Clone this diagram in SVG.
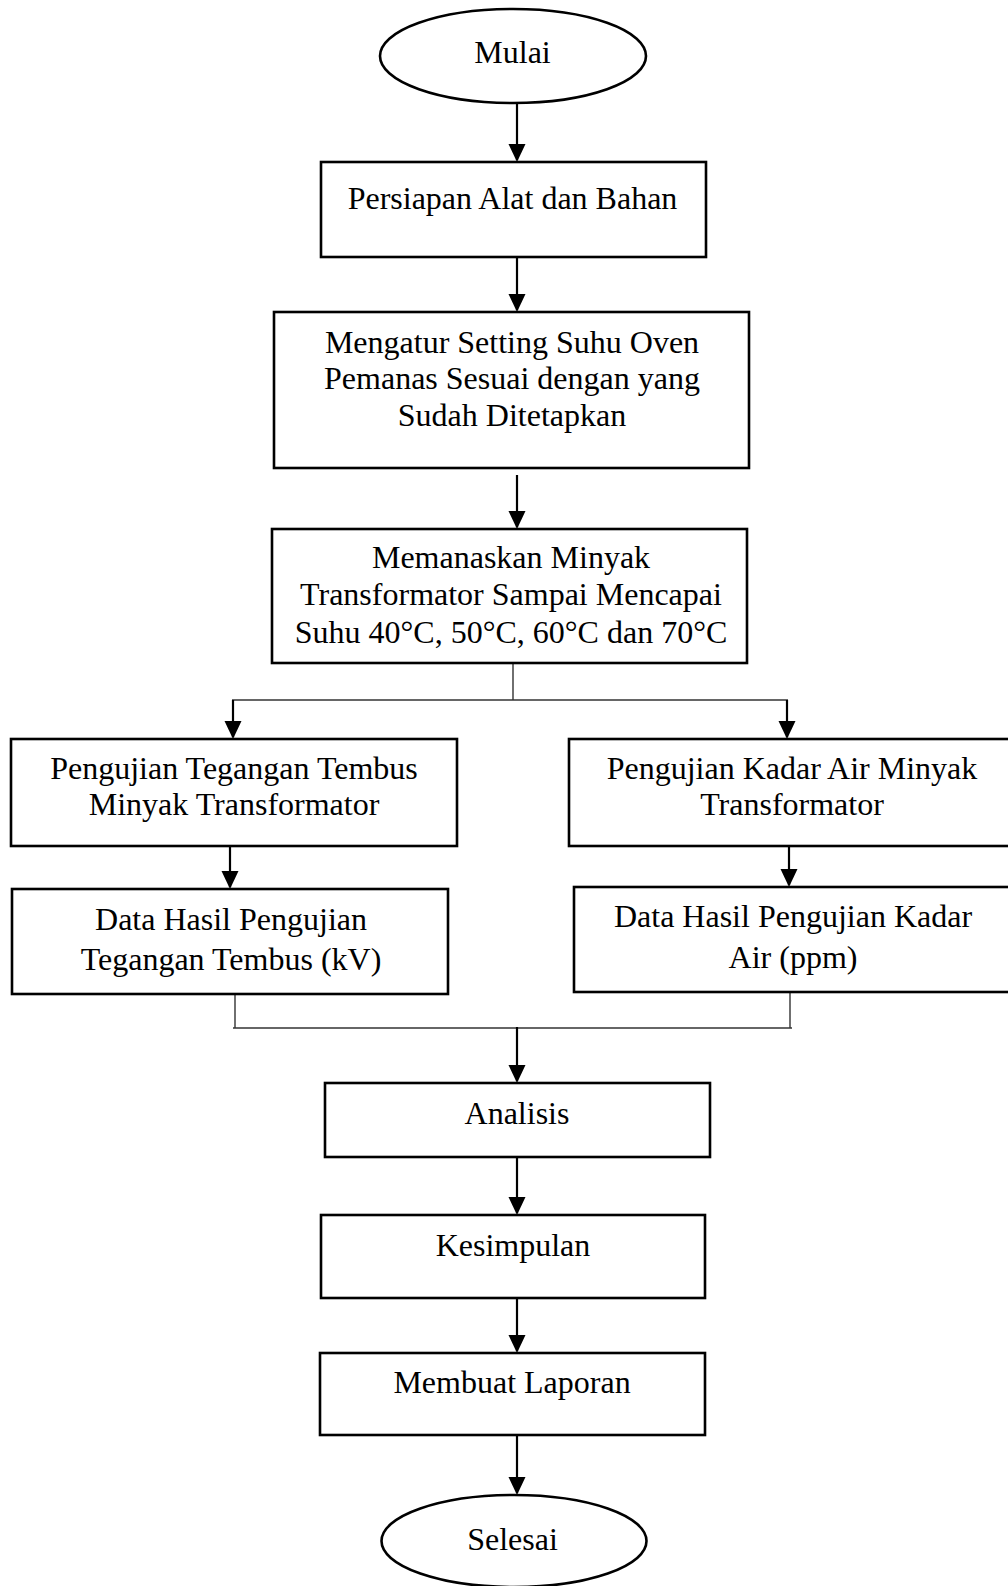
<svg xmlns="http://www.w3.org/2000/svg" width="1008" height="1586" viewBox="0 0 1008 1586">
<style>
  .box { fill: #fff; stroke: #000; stroke-width: 2.6; }
  .t { font-family: "Liberation Serif", "Times New Roman", serif; font-size: 32px; fill: #000; text-anchor: middle; }
  .arrow { stroke: #000; stroke-width: 2.2; fill: none; marker-end: url(#ah); }
  .thin { stroke: #333; stroke-width: 1.4; fill: none; }
</style>
<defs>
  <marker id="ah" markerUnits="userSpaceOnUse" markerWidth="20" markerHeight="18" refX="16" refY="8.5" orient="auto">
    <path d="M0,0 L18,8.5 L0,17 z" fill="#000"/>
  </marker>
</defs>
<rect width="1008" height="1586" fill="#fff"/>

<g id="connectors">
  <line class="arrow" x1="517" y1="103" x2="517" y2="160"/>
  <line class="arrow" x1="517" y1="257" x2="517" y2="310"/>
  <line class="arrow" x1="517" y1="475" x2="517" y2="527"/>
  <line class="thin" x1="513" y1="663" x2="513" y2="700"/>
  <line class="thin" x1="232" y1="700" x2="788" y2="700"/>
  <line class="arrow" x1="233" y1="700" x2="233" y2="737"/>
  <line class="arrow" x1="787" y1="700" x2="787" y2="737"/>
  <line class="arrow" x1="230" y1="846" x2="230" y2="887"/>
  <line class="arrow" x1="789" y1="846" x2="789" y2="885"/>
  <line class="thin" x1="235" y1="994" x2="235" y2="1028"/>
  <line class="thin" x1="790" y1="992" x2="790" y2="1028"/>
  <line class="thin" x1="233" y1="1028" x2="792" y2="1028"/>
  <line class="arrow" x1="517" y1="1027" x2="517" y2="1081"/>
  <line class="arrow" x1="517" y1="1157" x2="517" y2="1213"/>
  <line class="arrow" x1="517" y1="1298" x2="517" y2="1351"/>
  <line class="arrow" x1="517" y1="1435" x2="517" y2="1493"/>
</g>

<g id="mulai">
  <ellipse class="box" cx="513" cy="56" rx="133" ry="47"/>
  <text class="t" x="512.5" y="63">Mulai</text>
</g>

<g id="persiapan">
  <rect class="box" x="321" y="162" width="385" height="95"/>
  <text class="t" x="512.5" y="209">Persiapan Alat dan Bahan</text>
</g>

<g id="mengatur">
  <rect class="box" x="274" y="312" width="475" height="156"/>
  <text class="t" x="512" y="353">Mengatur Setting Suhu Oven</text>
  <text class="t" x="512" y="389">Pemanas Sesuai dengan yang</text>
  <text class="t" x="512" y="426">Sudah Ditetapkan</text>
</g>

<g id="memanaskan">
  <rect class="box" x="272" y="529" width="475" height="134"/>
  <text class="t" x="511" y="568">Memanaskan Minyak</text>
  <text class="t" x="511" y="605">Transformator Sampai Mencapai</text>
  <text class="t" x="511" y="643">Suhu 40°C, 50°C, 60°C dan 70°C</text>
</g>

<g id="uji-tegangan">
  <rect class="box" x="11" y="739" width="446" height="107"/>
  <text class="t" x="234" y="779">Pengujian Tegangan Tembus</text>
  <text class="t" x="234" y="815">Minyak Transformator</text>
</g>

<g id="data-tegangan">
  <rect class="box" x="12" y="889" width="436" height="105"/>
  <text class="t" x="231" y="930">Data Hasil Pengujian</text>
  <text class="t" x="231" y="970">Tegangan Tembus (kV)</text>
</g>

<g id="uji-kadar">
  <rect class="box" x="569" y="739" width="450" height="107"/>
  <text class="t" x="792" y="779">Pengujian Kadar Air Minyak</text>
  <text class="t" x="792" y="815">Transformator</text>
</g>

<g id="data-kadar">
  <rect class="box" x="574" y="887" width="450" height="105"/>
  <text class="t" x="793" y="927">Data Hasil Pengujian Kadar</text>
  <text class="t" x="793" y="968">Air (ppm)</text>
</g>

<g id="analisis">
  <rect class="box" x="325" y="1083" width="385" height="74"/>
  <text class="t" x="517" y="1124">Analisis</text>
</g>

<g id="kesimpulan">
  <rect class="box" x="321" y="1215" width="384" height="83"/>
  <text class="t" x="513" y="1256">Kesimpulan</text>
</g>

<g id="laporan">
  <rect class="box" x="320" y="1353" width="385" height="82"/>
  <text class="t" x="512" y="1393">Membuat Laporan</text>
</g>

<g id="selesai">
  <ellipse class="box" cx="514" cy="1541" rx="132.5" ry="46"/>
  <text class="t" x="512.5" y="1550">Selesai</text>
</g>
</svg>
